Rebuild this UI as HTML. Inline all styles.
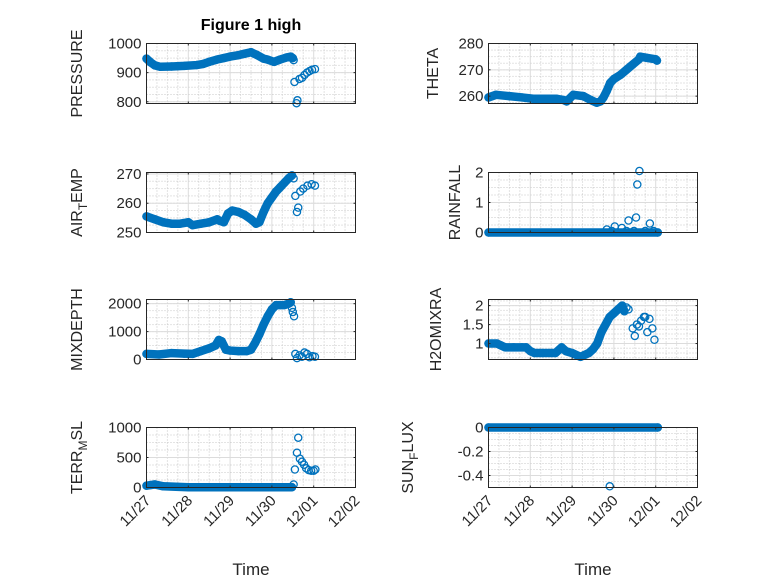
<!DOCTYPE html>
<html><head><meta charset="utf-8"><style>
html,body{margin:0;padding:0;background:#fff;}
svg{display:block;font-family:"Liberation Sans",sans-serif;}
</style></head><body>
<svg id="fig" width="778" height="583" viewBox="0 0 778 583"></svg>
<script>
// time offsets in days since 11/27
const xTickLabels = ['11/27','11/28','11/29','11/30','12/01','12/02'];
const xDomain = [0, 5];

const pressureT = [0,0.1,0.2,0.33,0.6,0.9,1.2,1.36,1.5,1.69,1.85,2.0,2.2,2.35,2.5,2.65,2.8,2.89,3.05,3.2,3.35,3.45,3.5];
const pressureV = [948,935,925,920,921,923,926,930,937,945,950,955,960,965,970,960,948,945,937,945,952,955,950];
const pressureScatT = [3.52,3.54,3.59,3.61,3.66,3.72,3.78,3.84,3.9,3.96,4.03];
const pressureScatV = [943,868,795,805,878,882,892,900,905,910,912];

const airT = [0,0.2,0.4,0.6,0.8,1.0,1.1,1.3,1.5,1.69,1.75,1.85,1.95,2.05,2.2,2.35,2.5,2.62,2.7,2.8,2.9,3.0,3.1,3.2,3.3,3.4,3.48];
const airV = [255.5,254.5,253.5,253,253,253.5,252.5,253,253.5,254.5,254,253.5,256.5,257.5,257,256,254.5,253,253.5,257,260,262,264,265.5,267,268.5,269.5];
const airScatT = [3.52,3.56,3.6,3.63,3.68,3.75,3.85,3.95,4.03];
const airScatV = [268.5,262.5,257,258.5,264,265,266,266.5,266];

const mixT = [0,0.3,0.6,0.9,1.1,1.3,1.5,1.65,1.73,1.8,1.9,2.0,2.2,2.4,2.5,2.6,2.7,2.8,2.9,3.0,3.1,3.2,3.3,3.4,3.45];
const mixV = [200,180,230,210,200,300,400,500,700,650,350,320,300,300,350,600,900,1250,1550,1800,1950,1950,1950,2000,2050];
const mixScatT = [3.48,3.5,3.53,3.56,3.6,3.66,3.72,3.78,3.84,3.9,3.97,4.03];
const mixScatV = [1850,1700,1550,200,50,150,100,250,200,80,120,100];

const terrT = [0,0.1,0.2,0.4,1.0,2.0,3.0,3.48];
const terrV = [30,40,50,20,5,5,5,5];
const terrScatT = [3.52,3.55,3.6,3.63,3.67,3.72,3.77,3.82,3.88,3.94,4.0,4.04];
const terrScatV = [50,300,580,830,480,430,380,320,290,280,280,300];

const thetaT = [0,0.18,0.5,0.8,1.07,1.4,1.63,1.8,1.87,2.03,2.27,2.45,2.59,2.68,2.75,2.83,2.91,3.0,3.15,3.3,3.45,3.6,3.63,3.8,4.0,4.03];
const thetaV = [259.5,260.5,260,259.5,259,259,259,258.5,258,260.5,260,258.5,257.5,258,259.5,262,265,266.5,268,270,272,274,275,274.5,274,273.5];

const rainT = [0,4.05];
const rainV = [0,0];
const rainScatT = [2.83,2.95,3.02,3.19,3.3,3.35,3.48,3.53,3.56,3.61,3.75,3.86,3.95];
const rainScatV = [0.1,0.05,0.2,0.15,0.05,0.4,0.05,0.5,1.6,2.05,0.05,0.3,0.05];

const h2oT = [0,0.2,0.3,0.4,0.6,0.8,0.9,1.0,1.1,1.3,1.6,1.75,1.85,2.0,2.2,2.4,2.5,2.6,2.7,2.8,2.9,3.0,3.1,3.2,3.25];
const h2oV = [1.0,1.0,0.95,0.9,0.9,0.9,0.9,0.8,0.75,0.75,0.75,0.9,0.8,0.75,0.65,0.75,0.85,1.0,1.3,1.5,1.7,1.8,1.9,2.0,1.85];
const h2oScatT = [3.3,3.35,3.45,3.5,3.55,3.6,3.65,3.72,3.75,3.8,3.85,3.92,3.97];
const h2oScatV = [1.95,1.9,1.4,1.2,1.5,1.45,1.6,1.7,1.7,1.3,1.65,1.4,1.1];

const sunT = [0,4.05];
const sunV = [0,0];
const sunScatT = [2.9];
const sunScatV = [-0.49];

const panels = [
 {name:'pressure', label:['PRESSURE'], x:146.5, y:43.5, yd:[794,1000], yt:[800,900,1000], t:pressureT, v:pressureV, st:pressureScatT, sv:pressureScatV, lx:82, title:true},
 {name:'air-temp', label:['AIR','T','EMP'], x:146.5, y:172.5, yd:[250,270.5], yt:[250,260,270], t:airT, v:airV, st:airScatT, sv:airScatV, lx:82},
 {name:'mixdepth', label:['MIXDEPTH'], x:146.5, y:299.5, yd:[0,2150], yt:[0,1000,2000], t:mixT, v:mixV, st:mixScatT, sv:mixScatV, lx:82},
 {name:'terr-msl', label:['TERR','M','SL'], x:146.5, y:427.5, yd:[0,1000], yt:[0,500,1000], t:terrT, v:terrV, st:terrScatT, sv:terrScatV, lx:82, xl:true},
 {name:'theta', label:['THETA'], x:488.5, y:43.5, yd:[257.2,280], yt:[260,270,280], t:thetaT, v:thetaV, st:[], sv:[], lx:438},
 {name:'rainfall', label:['RAINFALL'], x:488.5, y:172.5, yd:[0,2], yt:[0,1,2], t:rainT, v:rainV, st:rainScatT, sv:rainScatV, lx:460},
 {name:'h2omixra', label:['H2OMIXRA'], x:488.5, y:299.5, yd:[0.58,2.16], yt:[1,1.5,2], t:h2oT, v:h2oV, st:h2oScatT, sv:h2oScatV, lx:441},
 {name:'sunflux', label:['SUN','F','LUX'], x:488.5, y:427.5, yd:[-0.5,0], yt:[-0.4,-0.2,0], t:sunT, v:sunV, st:sunScatT, sv:sunScatV, lx:413, xl:true}
];
const W=209, H=60, NS='http://www.w3.org/2000/svg', C='#0072BD';
const svg=document.getElementById('fig');
function mk(tag,attrs,parent){const e=document.createElementNS(NS,tag);for(const k in attrs)e.setAttribute(k,attrs[k]);(parent||svg).appendChild(e);return e;}

panels.forEach(p=>{
 const g=mk('g',{});
 
 
 const sx=t=>p.x+(t-xDomain[0])/(xDomain[1]-xDomain[0])*W;
 const sy=v=>p.y+H-(v-p.yd[0])/(p.yd[1]-p.yd[0])*H;
 mk('rect',{x:p.x,y:p.y,width:W,height:H,fill:'#fff'},g);
 for(let d=0;d<5;d++)for(let k=1;k<4;k++){const x=sx(d+k/4);mk('line',{x1:x,x2:x,y1:p.y,y2:p.y+H,stroke:'#c8c8c8','stroke-width':1,'stroke-dasharray':'1 2'},g);}
 const step=p.yt[1]-p.yt[0];
 for(let v=p.yt[0]-step;v<=p.yt[p.yt.length-1]+step;v+=step/4){const y=sy(v);if(y>p.y+0.5&&y<p.y+H-0.5)mk('line',{x1:p.x,x2:p.x+W,y1:y,y2:y,stroke:'#c8c8c8','stroke-width':1,'stroke-dasharray':'1 2'},g);}
 for(let d=1;d<5;d++){const x=sx(d);mk('line',{x1:x,x2:x,y1:p.y,y2:p.y+H,stroke:'#dcdcdc','stroke-width':1},g);}
 p.yt.forEach(v=>{const y=sy(v);mk('line',{x1:p.x,x2:p.x+W,y1:y,y2:y,stroke:'#dcdcdc','stroke-width':1},g);});
 const pts=p.t.map((t,i)=>sx(t)+','+sy(p.v[i])).join(' ');
 const pl=mk('polyline',{points:pts,fill:'none',stroke:C,'stroke-width':8.5,'stroke-linejoin':'round','stroke-linecap':'round'},g);
 
 
 p.t.forEach((t,i)=>{const c=mk('circle',{cx:sx(t),cy:sy(p.v[i]),r:3.6,fill:'none',stroke:C,'stroke-width':1.2},g);
  
  });
 p.st.forEach((t,i)=>{const c=mk('circle',{cx:sx(t),cy:sy(p.sv[i]),r:3.6,fill:'none',stroke:C,'stroke-width':1.3},g);
  
  });
 mk('rect',{x:p.x,y:p.y,width:W,height:H,fill:'none',stroke:'#262626','stroke-width':1},g);
 for(let d=0;d<=5;d++){const x=sx(d);mk('line',{x1:x,x2:x,y1:p.y+H,y2:p.y+H-2,stroke:'#262626'},g);mk('line',{x1:x,x2:x,y1:p.y,y2:p.y+2,stroke:'#262626'},g);}
 p.yt.forEach(v=>{const y=sy(v);mk('line',{x1:p.x,x2:p.x+2,y1:y,y2:y,stroke:'#262626'},g);mk('line',{x1:p.x+W,x2:p.x+W-2,y1:y,y2:y,stroke:'#262626'},g);
  const tx=mk('text',{x:p.x-5,y:y+5,'text-anchor':'end','font-size':15,fill:'#262626'},g);tx.textContent=String(v);
  
  });
 const yl=mk('text',{transform:`translate(${p.lx},${p.y+H/2}) rotate(-90)`,'text-anchor':'middle','font-size':16,fill:'#262626'},g);
 
 
 p.label.forEach((s,i)=>{const ts=mk('tspan',{},yl);ts.textContent=s;if(i===1){ts.setAttribute('font-size',12);ts.setAttribute('dy',5);}if(i===2){ts.setAttribute('dy',-5);}});
 if(p.xl){
  xTickLabels.forEach((s,d)=>{const x=sx(d);const tx=mk('text',{transform:`translate(${x+5},${p.y+H+14}) rotate(-45)`,'text-anchor':'end','font-size':15,fill:'#262626'},g);tx.textContent=s;
   
   });
  const xt=mk('text',{x:p.x+W/2,y:575,'text-anchor':'middle','font-size':17,fill:'#262626'},g);xt.textContent='Time';
  
  
 }
 if(p.title){const tt=mk('text',{x:p.x+W/2,y:30,'text-anchor':'middle','font-size':16,'font-weight':'bold',fill:'#000'},g);tt.textContent='Figure 1 high';
  
  }
});
</script>
</body></html>
